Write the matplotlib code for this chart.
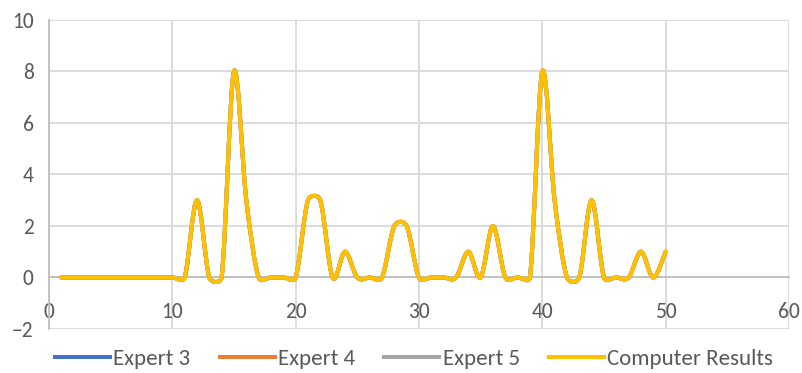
import numpy as np
import matplotlib
matplotlib.use('Agg')
import matplotlib.pyplot as plt
from matplotlib.path import Path
from matplotlib.patches import PathPatch
from matplotlib.lines import Line2D

plt.rcParams['font.family'] = ['Carlito', 'Liberation Sans Narrow', 'Open Sans', 'DejaVu Sans']

# data (all four series coincide)
x_vals = list(range(1, 51))
computer = [0, 0, 0, 0, 0, 0, 0, 0, 0, 0,
            0, 3, 0, 0, 8, 3, 0, 0, 0, 0,
            3, 3, 0, 1, 0, 0, 0, 2, 2, 0,
            0, 0, 0, 1, 0, 2, 0, 0, 0, 8,
            3, 0, 0, 3, 0, 0, 0, 1, 0, 1]
expert3 = list(computer)
expert4 = list(computer)
expert5 = list(computer)

series_names = ['Expert 3', 'Expert 4', 'Expert 5', 'Computer Results']
series_colors = ['#4472C4', '#ED7D31', '#A5A5A5', '#FFC000']


def smooth_path(ax, xs, ys):
    # Excel-style smoothed line, built in pixel space:
    # catmull-rom tangents, control arm capped at half the segment length
    p = ax.transData.transform(np.column_stack([xs, ys]).astype(float))
    n = len(p)
    verts = [p[0]]
    codes = [Path.MOVETO]
    for i in range(n - 1):
        p0 = p[i - 1] if i > 0 else p[i]
        p1, p2 = p[i], p[i + 1]
        p3 = p[i + 2] if i + 2 < n else p[i + 1]
        d12 = np.hypot(*(p2 - p1))
        a = (p2 - p0) / 6.0
        b = (p3 - p1) / 6.0
        la, lb = np.hypot(*a), np.hypot(*b)
        if la > d12 / 2:
            a = a * (d12 / 2) / la
        if lb > d12 / 2:
            b = b * (d12 / 2) / lb
        verts += [p1 + a, p2 - b, p2]
        codes += [Path.CURVE4] * 3
    verts = ax.transData.inverted().transform(np.array(verts))
    return Path(verts, codes)


fig = plt.figure(figsize=(8.03, 3.73), dpi=100)
ax = fig.add_axes([0.061, 0.118, 0.9215, 0.8284])
ax.set_xlim(0, 60)
ax.set_ylim(-2, 10)

handles = []
for name, ys, col in zip(series_names, [expert3, expert4, expert5, computer], series_colors):
    ax.add_patch(PathPatch(smooth_path(ax, x_vals, ys), facecolor='none', edgecolor=col,
                           lw=2.9, capstyle='round', joinstyle='round', zorder=3))
    handles.append(Line2D([], [], color=col, lw=2.9, label=name))

ax.set_xticks(range(0, 61, 10))
ax.set_yticks(range(-2, 11, 2))
ax.grid(True, color='#d9d9d9', lw=1.3)
ax.set_axisbelow(True)
for s in ['top', 'right']:
    ax.spines[s].set_visible(False)
ax.spines['bottom'].set_position(('data', 0))
for s in ['bottom', 'left']:
    ax.spines[s].set_color('#bfbfbf')
    ax.spines[s].set_linewidth(1.3)
ax.tick_params(axis='both', length=0, labelsize=15.5, labelcolor='#595959')
ax.tick_params(axis='x', pad=18)
ax.tick_params(axis='y', pad=11)

fig.legend(handles=handles, loc='center left', bbox_to_anchor=(55 / 803, 14 / 373), ncol=4,
           frameon=False, labelcolor='#595959', fontsize=16.5, handlelength=2.4,
           handletextpad=0.15, columnspacing=1.27, borderpad=0, borderaxespad=0)

fig.savefig('out.png', dpi=100)
